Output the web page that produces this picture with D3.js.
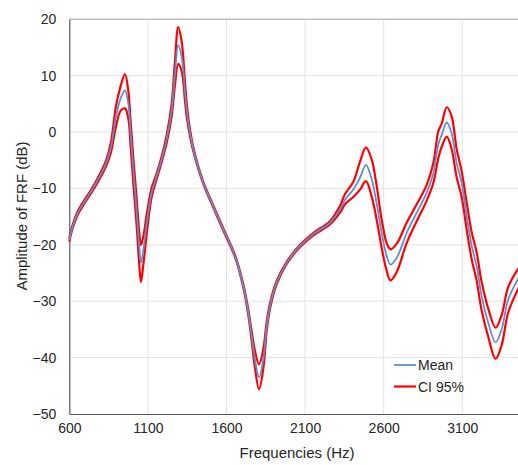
<!DOCTYPE html>
<html>
<head>
<meta charset="utf-8">
<script src="https://cdn.jsdelivr.net/npm/d3@7"></script>
<style>
  body { margin: 0; background: #fff; }
  svg { display: block; font-family: "Liberation Sans", Arial, sans-serif; }
</style>
</head>
<body>
<div id="chart"></div>
<script>
let w = 518;
let h = 465;

// data
let freqs = [600, 621, 653, 695, 738, 791, 833, 865, 897, 927, 954, 975, 990, 1007, 1029, 1045, 1056, 1071, 1096, 1124, 1156,
  1188, 1219, 1251, 1272, 1293, 1315, 1336, 1347, 1368, 1400, 1452, 1516, 1580, 1654, 1707, 1739, 1760, 1781, 1807, 1834, 1856,
  1877, 1919, 1983, 2068, 2152, 2258, 2322, 2354, 2407, 2449, 2487, 2524, 2555, 2587, 2619, 2644, 2683, 2746, 2810, 2873,
  2916, 2947, 2969, 3001, 3032, 3064, 3096, 3128, 3160, 3191, 3223, 3265, 3312, 3350, 3392, 3454, 3500];

let meanVals = [-19.1, -16.8, -14.4, -12.4, -10.6, -8.0, -5.6, -2.7, 2.8, 6.0, 7.4, 5.1, -0.1, -6.6, -14.3, -20.3, -23.2, -20.9, -15.5, -10.7, -7.8,
  -4.8, -1.3, 3.9, 10.3, 15.4, 13.3, 7.2, 3.9, -0.2, -4.3, -9.0, -13.2, -17.3, -22.0, -27.3, -32.0, -36.2, -40.3, -43.5, -40.3, -34.4,
  -30.8, -26.7, -23.2, -20.2, -18.1, -16.1, -13.7, -12.0, -10.2, -8.1, -5.8, -8.4, -12.6, -17.9, -22.0, -23.5, -22.3, -17.9, -14.3, -10.8,
  -7.3, -2.2, -0.5, 1.7, -0.2, -5.5, -9.0, -14.9, -20.2, -23.8, -29.1, -33.8, -37.3, -35.0, -29.7, -26.1, -24.0];

let upperVals = [-18.8, -16.5, -14.1, -12.1, -10.3, -7.6, -5.1, -1.8, 4.6, 8.2, 10.3, 7.4, 2.0, -4.5, -12.0, -17.8, -20.0, -18.5, -14.0, -9.9, -7.3,
  -4.3, -0.6, 5.0, 12.5, 18.6, 16.0, 8.9, 5.1, 0.4, -4.0, -8.8, -13.0, -17.1, -21.8, -27.0, -31.5, -35.3, -38.8, -41.2, -38.5, -33.6,
  -30.3, -26.4, -23.0, -20.0, -17.9, -15.8, -13.1, -11.0, -8.8, -5.3, -2.7, -4.9, -9.5, -15.5, -19.7, -20.8, -19.8, -16.1, -12.8, -9.4,
  -5.5, 0.1, 1.5, 4.4, 2.8, -3.0, -7.0, -12.5, -17.8, -21.3, -26.6, -31.3, -34.7, -32.5, -27.5, -24.3, -22.5];

let lowerVals = [-19.4, -17.1, -14.7, -12.7, -10.9, -8.4, -6.1, -3.6, 1.0, 3.8, 4.2, 2.5, -2.5, -9.0, -16.8, -23.5, -26.6, -23.5, -17.2, -11.5, -8.3,
  -5.3, -2.0, 2.8, 8.3, 12.1, 10.8, 5.5, 2.7, -0.8, -4.6, -9.2, -13.4, -17.5, -22.2, -27.6, -32.5, -37.0, -41.8, -45.6, -42.0, -35.2,
  -31.3, -27.0, -23.4, -20.4, -18.3, -16.4, -14.3, -12.8, -11.5, -10.2, -8.7, -11.5, -15.5, -20.5, -24.6, -26.3, -24.8, -19.7, -15.8, -12.2,
  -9.0, -4.7, -2.6, -0.8, -3.0, -8.0, -11.5, -17.3, -22.6, -26.3, -31.6, -36.3, -40.2, -37.8, -32.0, -27.9, -25.5];

let xTicks = [600, 1100, 1600, 2100, 2600, 3100];
let yTicks = [-50, -40, -30, -20, -10, 0, 10, 20];
let seriesNames = ["Mean", "CI 95%"];

let plotLeft = 69.3, plotTop = 19.3, plotBottom = 414;

let viz = d3.select("#chart")
  .append("svg")
    .attr("width", w)
    .attr("height", h);

let x = d3.scaleLinear().domain([600, 3500]).range([plotLeft, plotLeft + 2900 / 500 * 78.6]);
let y = d3.scaleLinear().domain([-50, 20]).range([plotBottom, plotTop]);

// gridlines
let grid = viz.append("g").attr("class", "grid");
grid.selectAll(".hg")
  .data(yTicks.filter(d => d > -50))
  .enter().append("line")
    .attr("x1", plotLeft).attr("x2", w)
    .attr("y1", d => y(d)).attr("y2", d => y(d))
    .attr("stroke", d => d == 20 ? "#bfbfbf" : "#e3e3e3")
    .attr("stroke-width", d => d == 20 ? 1.5 : 1);
grid.selectAll(".vg")
  .data(xTicks.filter(d => d > 600))
  .enter().append("line")
    .attr("x1", d => x(d)).attr("x2", d => x(d))
    .attr("y1", plotTop).attr("y2", plotBottom)
    .attr("stroke", "#e3e3e3");

// axes
let xAxis = d3.axisBottom(x).tickValues(xTicks).tickSize(0).tickPadding(9).tickFormat(d3.format("d"));
let yAxis = d3.axisLeft(y).tickValues(yTicks).tickSize(0).tickPadding(13).tickFormat(d3.format("d"));

let gx = viz.append("g").attr("transform", "translate(0," + plotBottom + ")").call(xAxis);
let gy = viz.append("g").attr("transform", "translate(" + plotLeft + ",0)").call(yAxis);
gx.select(".domain").attr("stroke", "#595959").attr("stroke-width", 1.2);
gy.select(".domain").attr("stroke", "#595959").attr("stroke-width", 1.2);
gx.selectAll("text").attr("font-size", 14).attr("fill", "#262626").attr("font-family", "Liberation Sans, Arial, sans-serif");
gy.selectAll("text").attr("font-size", 14).attr("fill", "#262626").attr("font-family", "Liberation Sans, Arial, sans-serif");

// titles
viz.append("text")
  .attr("x", 297).attr("y", 458)
  .attr("text-anchor", "middle")
  .attr("font-size", 15).attr("fill", "#262626")
  .text("Frequencies (Hz)");
viz.append("text")
  .attr("transform", "translate(27,216) rotate(-90)")
  .attr("text-anchor", "middle")
  .attr("font-size", 15).attr("fill", "#262626")
  .text("Amplitude of FRF (dB)");

// lines
let lineFunction = d3.line()
  .x(d => x(d[0]))
  .y(d => y(d[1]))
  .curve(d3.curveCatmullRom.alpha(0.5));

let lines = viz.append("g").attr("class", "lines");
lines.append("path")
  .attr("d", lineFunction(freqs.map((f, i) => [f, upperVals[i]])))
  .attr("fill", "none").attr("stroke", "#ff0000").attr("stroke-width", 2.2);
lines.append("path")
  .attr("d", lineFunction(freqs.map((f, i) => [f, lowerVals[i]])))
  .attr("fill", "none").attr("stroke", "#ff0000").attr("stroke-width", 2.2);
lines.append("path")
  .attr("d", lineFunction(freqs.map((f, i) => [f, meanVals[i]])))
  .attr("fill", "none").attr("stroke", "#5b8fd0").attr("stroke-width", 1.8);

// legend
let legend = viz.append("g").attr("class", "legend");
let legColors = ["#5b8fd0", "#ff0000"];
seriesNames.forEach(function(name, i) {
  let ly = 365 + i * 21.5;
  legend.append("line")
    .attr("x1", 394).attr("x2", 416)
    .attr("y1", ly).attr("y2", ly)
    .attr("stroke", legColors[i]).attr("stroke-width", i == 0 ? 1.8 : 2.2);
  legend.append("text")
    .attr("x", 418).attr("y", ly + 5)
    .attr("font-size", 14).attr("fill", "#262626")
    .text(name);
});
</script>
</body>
</html>
